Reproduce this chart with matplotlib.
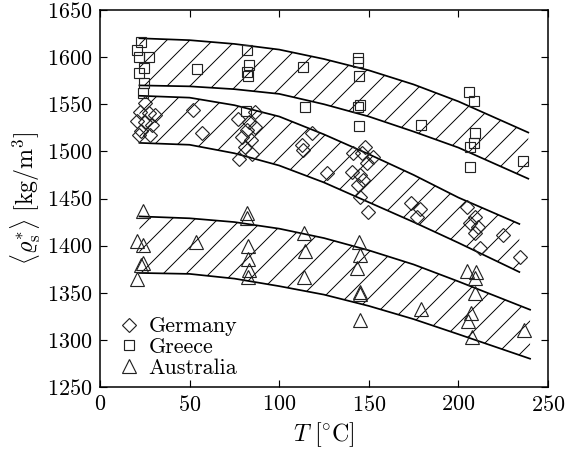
import numpy as np
import matplotlib
matplotlib.use("Agg")
import matplotlib.pyplot as plt

plt.rcParams['font.family'] = 'serif'
plt.rcParams['font.serif'] = ['cmr10', 'DejaVu Serif']
plt.rcParams['mathtext.fontset'] = 'cm'
plt.rcParams['axes.unicode_minus'] = False
plt.rcParams['axes.formatter.use_mathtext'] = True
plt.rcParams['hatch.linewidth'] = 0.5

# measured points
germany_T = [25.1, 22.3, 27.5, 30.7, 20.8, 25.1, 28.8, 22.7, 27.9, 21.6,
             52.0, 56.7,
             86.5, 77.2, 83.3, 86.5, 82.2, 79.0, 84.0, 80.9, 84.6, 77.7,
             118.1, 112.5, 113.5, 126.9,
             147.9, 141.0, 146.0, 152.5, 148.8, 140.4, 145.0, 146.9, 144.2, 145.0, 149.7,
             173.4, 178.6, 176.7,
             204.6, 209.3, 206.5, 211.1, 209.3, 212.0, 224.7, 234.4]
germany_rho = [1551, 1541.5, 1540.4, 1538.6, 1532.2, 1531.5, 1528, 1521.6, 1517.4, 1517.4,
               1543.9, 1519.8,
               1542, 1534, 1531.5, 1525.5, 1522.7, 1515.6, 1512, 1504.3, 1497.2, 1491.6,
               1519.2, 1506.8, 1501.5, 1476.7,
               1504.3, 1497.9, 1497.9, 1494.3, 1487.3, 1478.4, 1475, 1469.6, 1464.3, 1452, 1436,
               1445.6, 1438.5, 1430.7,
               1441.3, 1430.7, 1423.7, 1420, 1413, 1397.2, 1411.3, 1387.6]

greece_T = [22.7, 20.5, 21.9, 27.5, 24.6, 21.9, 24.6, 24.2,
            54.0,
            82.2, 83.3, 82.2, 82.8, 81.5,
            113.5, 114.4,
            144.2, 144.2, 144.7, 145.0, 144.2, 144.7,
            179.0,
            206.0, 208.7, 209.3, 208.9, 206.7, 206.5,
            235.9]
greece_rho = [1616.4, 1607.6, 1599.8, 1600.5, 1588.8, 1583.5, 1572.2, 1562.3,
              1587.1,
              1607.6, 1591.6, 1584.5, 1580, 1542.8,
              1589.8, 1547.4,
              1598.7, 1595.2, 1580, 1549.2, 1546.8, 1526.9,
              1528,
              1562.7, 1553.4, 1519, 1508.6, 1504.3, 1483.7,
              1490]

aus_T = [24.2, 20.8, 24.2, 22.7, 24.2, 20.5,
         53.6,
         82.2, 82.2, 82.8, 82.8, 83.3, 82.8,
         113.8, 114.4, 113.8,
         144.7, 145.0, 143.2, 145.0, 145.3, 145.0,
         179.0,
         205.0, 209.8, 209.3, 209.3, 206.9, 205.5, 207.4,
         236.6]
aus_rho = [1437, 1405.2, 1400.7, 1379.4, 1381.2, 1364.3,
           1404.2,
           1434.3, 1429, 1400, 1385.8, 1374.1, 1367,
           1413, 1394.6, 1366.4,
           1404.2, 1390, 1375.9, 1351.1, 1349, 1321,
           1332.4,
           1373.1, 1372.3, 1365.3, 1349.4, 1328.8, 1320.4, 1303.4,
           1310.5]

# bands
greece_band_T = [22, 50, 75, 100, 125, 150, 175, 200, 239]
greece_upper = [1620, 1618, 1614, 1608, 1598, 1586, 1571, 1553, 1520]
greece_lower = [1570, 1569, 1566, 1561, 1550, 1537, 1521, 1504, 1471]

germany_band_T = [22, 50, 75, 100, 125, 150, 175, 200, 234]
germany_upper = [1559, 1557, 1549, 1537, 1518, 1497, 1475, 1451, 1423]
germany_lower = [1509, 1507, 1498, 1485, 1467, 1446, 1425, 1403, 1372]

aus_band_T = [22, 50, 75, 100, 125, 150, 175, 200, 240]
aus_upper = [1431, 1429, 1425, 1418, 1408, 1395, 1380, 1362, 1332]
aus_lower = [1371, 1370, 1365, 1357, 1348, 1336, 1322, 1306, 1280]

dpi = 138
fig = plt.figure(figsize=(575 / dpi, 454 / dpi), dpi=dpi)
ax = fig.add_axes([100 / 575, 1 - 387 / 454, 448 / 575, 377 / 454])

bands = [(greece_band_T, greece_upper, greece_lower),
         (germany_band_T, germany_upper, germany_lower),
         (aus_band_T, aus_upper, aus_lower)]
for bt, up, lo in bands:
    ax.fill_between(bt, lo, up, facecolor='none', edgecolor='black',
                    hatch='//', linewidth=0)
    ax.plot(bt, up, color='black', lw=0.9)
    ax.plot(bt, lo, color='black', lw=0.9)

mk = dict(linestyle='none', markerfacecolor='none', markeredgecolor='#222222',
          markeredgewidth=0.6)
ax.plot(germany_T, germany_rho, marker='D', markersize=5.3, label='Germany', **mk)
ax.plot(greece_T, greece_rho, marker='s', markersize=5.3, label='Greece', **mk)
ax.plot(aus_T, aus_rho, marker='^', markersize=7.2, label='Australia', **mk)

ax.set_xlim(0, 250)
ax.set_ylim(1250, 1650)
ax.set_xticks([0, 50, 100, 150, 200, 250])
ax.set_yticks(np.arange(1250, 1651, 50))
ax.tick_params(direction='in', top=True, right=True, length=3.5, width=0.6,
               labelsize=11.5, pad=4)
for s in ax.spines.values():
    s.set_linewidth(0.8)

ax.set_xlabel(r'$T\ [^{\circ}\mathrm{C}]$', fontsize=12.5, labelpad=3)
ax.set_ylabel(r'$\langle\varrho^{*}_{\mathrm{s}}\rangle\ [\mathrm{kg/m}^{3}]$',
              fontsize=12.5, labelpad=2)

ax.legend(loc='lower left', bbox_to_anchor=(0.01, -0.01), frameon=False,
          fontsize=11.5, handlelength=1.0, handletextpad=0.4,
          labelspacing=0.05, borderaxespad=0.2)

fig.savefig('out.png', dpi=dpi)
